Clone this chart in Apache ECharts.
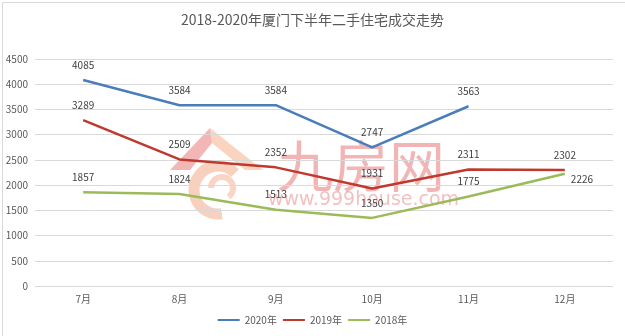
<!DOCTYPE html>
<html><head><meta charset="utf-8">
<script src="https://cdn.jsdelivr.net/npm/echarts@6/dist/echarts.min.js"></script>
<style>html,body{margin:0;padding:0;background:#fff}#c{width:625px;height:336px}</style>
</head><body><div id="c"></div>
<script>
const categories = ['7月','8月','9月','10月','11月','12月'];
const s2020 = [4085, 3584, 3584, 2747, 3563, null];
const s2019 = [3289, 2509, 2352, 1931, 2311, 2302];
const s2018 = [1857, 1824, 1513, 1350, 1775, 2226];
const seriesNames = ['2020年','2019年','2018年'];
const colors = ['#4A7EBB','#C0392F','#9BBB59'];
const font = '"Noto Sans CJK SC", "Microsoft YaHei", sans-serif';

const chart = echarts.init(document.getElementById('c'), null, {renderer:'canvas'});
function mk(name, data, color, idx) {
  return {
    name, type:'line', data, symbol:'circle', symbolSize:0, showSymbol:true, smooth:false,
    lineStyle:{color, width:2.5}, itemStyle:{color},
    connectNulls:false, z: 10 - idx,
    label:{show:true, position:'top', distance:10, color:'#404040', fontSize:10, fontFamily:font}
  };
}
const series = [mk(seriesNames[0], s2020, colors[0], 0), mk(seriesNames[1], s2019, colors[1], 1), mk(seriesNames[2], s2018, colors[2], 2)];
series[2].data = s2018.map((v,i) => i === 5 ? {value:v, label:{position:'right', distance:6, offset:[0,5]}} : v);

chart.setOption({
  animation:false,
  color: colors,
  title:{text:'2018-2020年厦门下半年二手住宅成交走势', left:'center', top:8,
    textStyle:{fontSize:14, fontWeight:'normal', color:'#595959', fontFamily:font}},
  grid:{left:35, right:12, top:59, bottom:50, containLabel:false},
  legend:{bottom:6, left:'center', itemWidth:22, itemHeight:2, itemGap:6, icon:'rect',
    textStyle:{fontSize:10, color:'#595959', fontFamily:font}, data:seriesNames},
  xAxis:{type:'category', data:categories, boundaryGap:true,
    axisLine:{show:false}, axisTick:{show:false},
    axisLabel:{color:'#595959', fontSize:10, fontFamily:font, margin:8}},
  yAxis:{type:'value', min:0, max:4500, interval:500,
    axisLine:{show:false}, axisTick:{show:false},
    splitLine:{lineStyle:{color:'#D9D9D9', width:1}},
    axisLabel:{color:'#595959', fontSize:10, fontFamily:font, margin:7, formatter: v => String(v)}},
  graphic:[
    {type:'rect', left:0, top:0, shape:{width:624, height:335}, style:{fill:'none', stroke:'#D9D9D9', lineWidth:1}, silent:true, z:-1},
    {type:'arc', z:0, shape:{cx:218, cy:190, r:24, startAngle:Math.PI*0.45, endAngle:Math.PI*1.75, clockwise:true}, style:{fill:'none', stroke:'rgba(240,150,110,0.45)', lineWidth:11}, silent:true},
    {type:'arc', z:0, shape:{cx:222, cy:188, r:11, startAngle:Math.PI*1.0, endAngle:Math.PI*2.3, clockwise:true}, style:{fill:'none', stroke:'rgba(240,150,110,0.4)', lineWidth:6}, silent:true},
    {type:'polygon', z:0, shape:{points:[[170,170],[210,128],[212,143],[190,170]]}, style:{fill:'rgba(232,110,110,0.5)'}, silent:true},
    {type:'polygon', z:0, shape:{points:[[210,128],[263,170],[245,170],[212,143]]}, style:{fill:'rgba(245,160,110,0.45)'}, silent:true},
    {type:'text', x:277, y:138, z:0, style:{text:'九房网', fill:'rgba(232,120,120,0.55)', font:'56px "Noto Sans CJK SC"'}, silent:true},
    {type:'text', x:268, y:191, z:0, style:{text:'www.999house.com', fill:'rgba(232,130,130,0.5)', font:'19px "DejaVu Sans"'}, silent:true}
  ],
  series
});
</script></body></html>
